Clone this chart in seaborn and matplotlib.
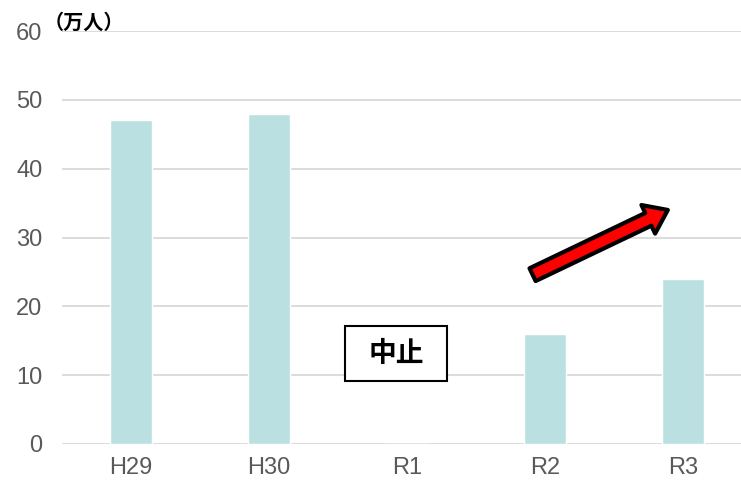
import matplotlib
matplotlib.use("Agg")
import matplotlib.pyplot as plt
import seaborn as sns
import pandas as pd
from matplotlib.patches import Rectangle

categories = ["H29", "H30", "R1", "R2", "R3"]
values = [47, 48, 0, 16, 24]
yticks = [0, 10, 20, 30, 40, 50, 60]
unit_label = "（万人）"
stop_label = "中止"

sns.set_theme(style="white")
plt.rcParams['font.family'] = ['Liberation Sans', 'Noto Sans CJK JP', 'DejaVu Sans']

df = pd.DataFrame({"year": categories, "value": values})

W, H = 741, 482
fig = plt.figure(figsize=(W / 100, H / 100), dpi=100)
ax = fig.add_axes([62 / W, 38 / H, (741 - 62) / W, 413 / H])

sns.barplot(data=df, x="year", y="value", color="#bae0e1", width=0.31,
            saturation=1, ax=ax, zorder=3)

ax.set_xlim(-0.5, -0.5 + 679 / 138)
ax.set_ylim(0, 60)
ax.set_yticks(yticks)
ax.yaxis.grid(True, color="#d9d9d9", linewidth=1.3, zorder=0)
ax.set_axisbelow(True)
for s in ax.spines.values():
    s.set_visible(False)
ax.set_xlabel("")
ax.set_ylabel("")
ax.tick_params(axis="both", length=0, labelsize=17, colors="#595959")
ax.tick_params(axis="y", pad=14)
ax.tick_params(axis="x", pad=9)

fig.text(44 / W, 1 - 22 / H, unit_label, fontsize=14.5, fontweight="bold",
         color="black", ha="left", va="center",
         family=['Noto Sans CJK JP', 'DejaVu Sans'])

# box with 中止
rect = Rectangle((345 / W, 1 - 381 / H), 102 / W, 55 / H, transform=fig.transFigure,
                 facecolor="white", edgecolor="black", linewidth=1.5, zorder=5)
fig.patches.append(rect)
fig.text(396 / W, 1 - 354 / H, stop_label, fontsize=20, fontweight="bold",
         ha="center", va="center", color="black",
         family=['Noto Sans CJK JP', 'DejaVu Sans'], zorder=6)

# red arrow
x0, y0 = 2.91, 24.6
x1, y1 = 3.89, 34.0
ax.annotate("", xy=(x1, y1), xytext=(x0, y0),
            arrowprops=dict(arrowstyle="simple,head_length=1.3,head_width=1.9,tail_width=0.85",
                            fc="#ff0000", ec="black", lw=3, shrinkA=0, shrinkB=0),
            zorder=6)

fig.savefig("out.png", dpi=100)
